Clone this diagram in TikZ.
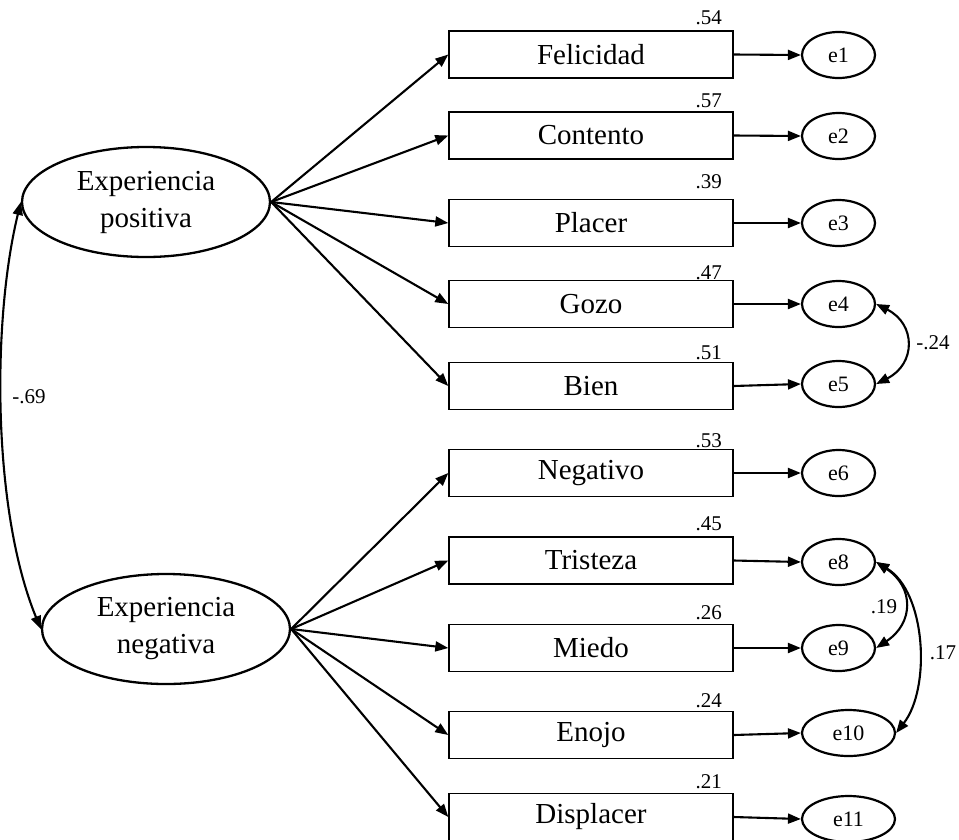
\documentclass[tikz,border=0pt]{standalone}
\usepackage{fontspec}
\setmainfont{Liberation Serif}
\usetikzlibrary{arrows.meta,shapes.geometric}
\begin{document}
\begin{tikzpicture}[x=1pt,y=-1pt,
  obs/.style={draw, line width=1.4pt, minimum width=284pt, minimum height=47pt, inner sep=0pt, font=\fontsize{29}{34}\selectfont},
  err/.style={draw, ellipse, line width=2.2pt, minimum width=73pt, minimum height=46pt, inner sep=0pt, font=\fontsize{22}{24}\selectfont},
  errw/.style={err, minimum width=93pt},
  lat/.style={draw, ellipse, line width=2.3pt, minimum width=248pt, minimum height=110pt, inner sep=0pt, align=center, font=\fontsize{29}{37}\selectfont},
  arr/.style={line width=2.1pt, -{Triangle[length=13pt,width=10pt]}},
  dbl/.style={line width=2.1pt, {Triangle[length=13pt,width=10pt]}-{Triangle[length=13pt,width=10pt]}},
  r2/.style={anchor=base east, inner sep=0pt, font=\fontsize{21}{24}\selectfont},
  lab/.style={inner sep=0pt, font=\fontsize{21}{24}\selectfont}]
\useasboundingbox (0,0) rectangle (959,839);

% latent variables
\node[lat] (pos) at (146,202) {Experiencia\\positiva};
\node[lat] (neg) at (166,629) {Experiencia\\negativa};

% observed variables
\node[obs] (b1) at (591,54.5) {Felicidad};
\node[obs] (b2) at (591,135.5) {Contento};
\node[obs] (b3) at (591,223) {Placer};
\node[obs] (b4) at (591,304) {Gozo};
\node[obs] (b5) at (591,386) {Bien};
\node[obs] (b6) at (591,473) {Negativo};
\node[obs] (b7) at (591,560.5) {Tristeza};
\node[obs] (b8) at (591,648) {Miedo};
\node[obs] (b9) at (591,735) {Enojo};
\node[obs] (b10) at (591,817) {Displacer};

% errors
\node[err] (e1) at (838.5,55) {e1};
\node[err] (e2) at (838.5,136) {e2};
\node[err] (e3) at (838.5,223) {e3};
\node[err] (e4) at (838.5,304) {e4};
\node[err] (e5) at (838.5,384) {e5};
\node[err] (e6) at (838.5,473) {e6};
\node[err] (e8) at (838.5,562) {e8};
\node[err] (e9) at (838.5,648) {e9};
\node[errw] (e10) at (848.5,733) {e10};
\node[errw] (e11) at (848.5,819) {e11};

% R-squared labels
\node[r2] (r1) at (722,24) {.54};
\node[r2] (r2) at (722,107) {.57};
\node[r2] (r3) at (722,188) {.39};
\node[r2] (r4) at (722,279) {.47};
\node[r2] (r5) at (722,359) {.51};
\node[r2] (r6) at (722,447) {.53};
\node[r2] (r7) at (722,530) {.45};
\node[r2] (r8) at (722,619) {.26};
\node[r2] (r9) at (722,707) {.24};
\node[r2] (r10) at (722,788) {.21};

% loadings
\foreach \b in {b1,b2,b3,b4,b5} \draw[arr] (pos.east) -- (\b.west);
\foreach \b in {b6,b7,b8,b9,b10} \draw[arr] (neg.east) -- (\b.west);

% error arrows
\draw[arr] (b1.east) -- (e1.west);
\draw[arr] (b2.east) -- (e2.west);
\draw[arr] (b3.east) -- (e3.west);
\draw[arr] (b4.east) -- (e4.west);
\draw[arr] (b5.east) -- (e5.west);
\draw[arr] (b6.east) -- (e6.west);
\draw[arr] (b7.east) -- (e8.west);
\draw[arr] (b8.east) -- (e9.west);
\draw[arr] (b9.east) -- (e10.west);
\draw[arr] (b10.east) -- (e11.west);

% correlations
\draw[dbl] (neg.west) .. controls (-8,510) and (-8,320) .. (pos.west);
\node[lab] (c1) at (29,397) {-.69};
\draw[dbl] (e4.east) .. controls +(40,20) and +(40,-20) .. (e5.east);
\node[lab] (c2) at (933,343) {-.24};
\draw[dbl] (e8.east) .. controls +(38,25) and +(38,-25) .. (e9.east);
\node[lab] (c3) at (884,607) {.19};
\draw[dbl] (e8.east) .. controls +(50,30) and +(35,-45) .. (e10.east);
\node[lab] (c4) at (943,653) {.17};
\end{tikzpicture}
\end{document}
